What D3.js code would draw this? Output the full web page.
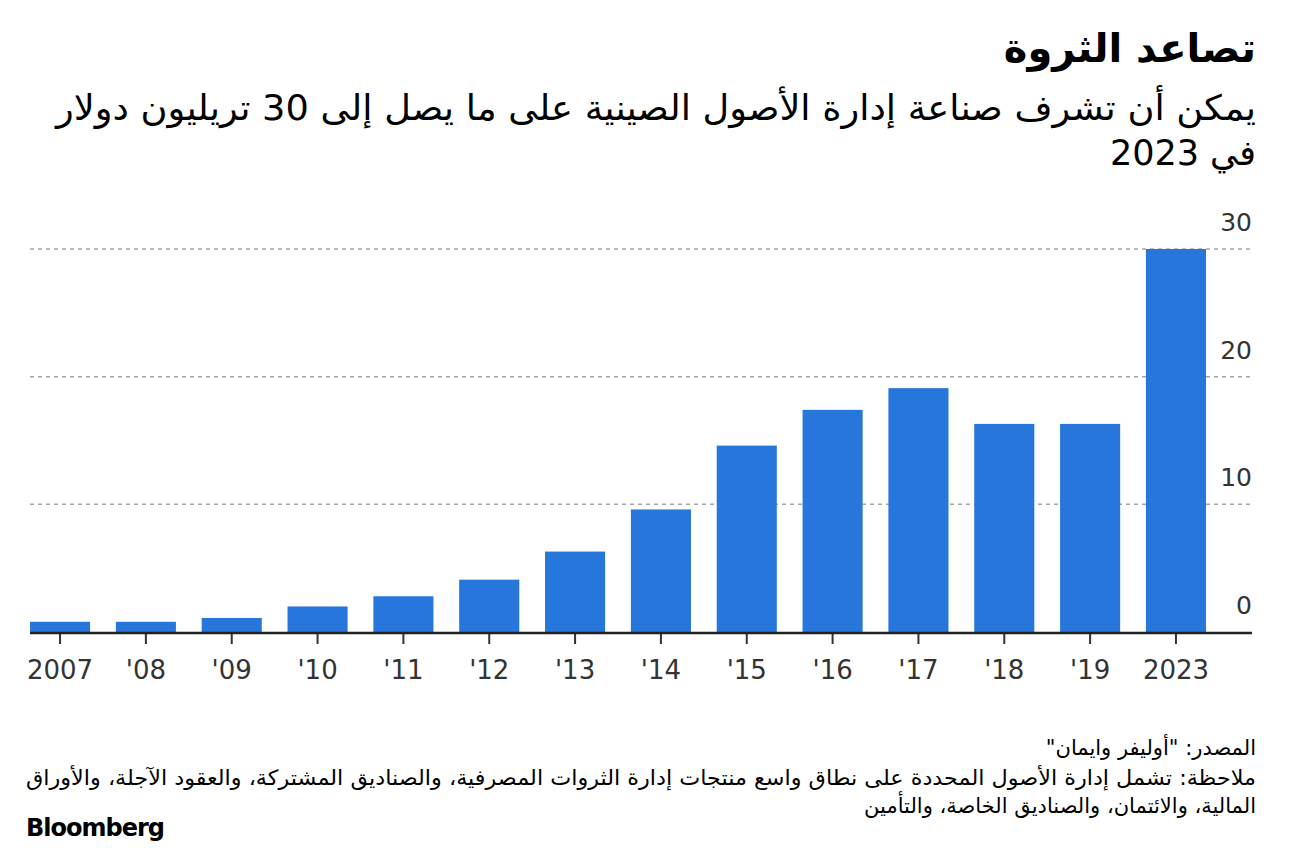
<!DOCTYPE html>
<html>
<head>
<meta charset="utf-8">
<script src="https://cdn.jsdelivr.net/npm/d3@7"></script>
<style>
  body { margin: 0; background: #fff; }
  svg text { font-family: "DejaVu Sans", "Noto Sans", sans-serif; }
</style>
</head>
<body>
<div id="chart"></div>
<script>
var years = ['2007', "'08", "'09", "'10", "'11", "'12", "'13", "'14", "'15", "'16", "'17", "'18", "'19", '2023']
var assets = [0.8, 0.8, 1.1, 2.0, 2.8, 4.1, 6.3, 9.6, 14.6, 17.4, 19.1, 16.3, 16.3, 30]
var yTicks = [0, 10, 20, 30]

var title = 'تصاعد الثروة'
var subtitle = ['يمكن أن تشرف صناعة إدارة الأصول الصينية على ما يصل إلى 30 تريليون دولار', 'في 2023']
var footer = [
    'المصدر: "أوليفر وايمان"',
    'ملاحظة: تشمل إدارة الأصول المحددة على نطاق واسع منتجات إدارة الثروات المصرفية، والصناديق المشتركة، والعقود الآجلة، والأوراق',
    'المالية، والائتمان، والصناديق الخاصة، والتأمين'
]

var width = 1296
var height = 852
var left = 30
var right = 1252
var plotTop = 249
var plotBottom = 632

var svg = d3.select('#chart').append('svg')
    .attr('width', width)
    .attr('height', height)

function rtlText(str, y, size, weight){
    return svg.append('text')
        .attr('x', 1256)
        .attr('y', y)
        .attr('direction', 'rtl')
        .attr('text-anchor', 'start')
        .attr('font-size', size)
        .attr('font-weight', weight || 'normal')
        .attr('fill', '#000')
        .text(str)
}

rtlText(title, 62, 40, 'bold')
rtlText(subtitle[0], 120, 35).attr('textLength', 1200).attr('lengthAdjust', 'spacingAndGlyphs')
rtlText(subtitle[1], 165, 35)

var x = d3.scaleBand()
    .domain(years)
    .range([left, 1206])
    .paddingInner(0.3)
    .paddingOuter(0)

var y = d3.scaleLinear()
    .domain([0, 30])
    .range([plotBottom, plotTop])

// grid lines
svg.append('g')
    .selectAll('line')
    .data(yTicks.filter(function(d){ return d > 0 }))
    .enter()
    .append('line')
    .attr('x1', left)
    .attr('x2', right)
    .attr('y1', function(d){ return y(d) })
    .attr('y2', function(d){ return y(d) })
    .attr('stroke', '#a6a6a6')
    .attr('stroke-width', 1.5)
    .attr('stroke-dasharray', '4,4')

// bars
svg.append('g')
    .selectAll('rect')
    .data(assets)
    .enter()
    .append('rect')
    .attr('x', function(d, i){ return x(years[i]) })
    .attr('y', function(d){ return y(d) })
    .attr('width', x.bandwidth())
    .attr('height', function(d){ return plotBottom - y(d) })
    .attr('fill', '#2676dc')

// y labels, right aligned, sitting above the grid line
svg.append('g')
    .selectAll('text')
    .data(yTicks)
    .enter()
    .append('text')
    .attr('x', right)
    .attr('y', function(d){ return y(d) - 18 })
    .attr('text-anchor', 'end')
    .attr('font-size', 25)
    .attr('fill', '#333')
    .text(function(d){ return d })

// x axis
var xAxis = d3.axisBottom(x).tickSize(12).tickPadding(17)
var gx = svg.append('g')
    .attr('transform', 'translate(0,' + plotBottom + ')')
    .call(xAxis)
gx.select('.domain').remove()
gx.selectAll('.tick line').attr('stroke', '#333').attr('stroke-width', 2)
gx.selectAll('.tick text')
    .attr('font-size', 26)
    .attr('fill', '#333')
    .attr('font-family', '"DejaVu Sans Condensed", "DejaVu Sans", sans-serif')

svg.append('line')
    .attr('x1', left)
    .attr('x2', right)
    .attr('y1', plotBottom + 1)
    .attr('y2', plotBottom + 1)
    .attr('stroke', '#222')
    .attr('stroke-width', 2.5)

rtlText(footer[0], 755, 21)
rtlText(footer[1], 785, 21).attr('textLength', 1230).attr('lengthAdjust', 'spacingAndGlyphs')
rtlText(footer[2], 813, 21)

svg.append('text')
    .attr('x', 26)
    .attr('y', 836)
    .attr('font-size', 24)
    .attr('font-weight', 'bold')
    .attr('letter-spacing', -1)
    .attr('font-family', '"Liberation Sans", Arial, sans-serif')
    .attr('fill', '#000')
    .text('Bloomberg')
</script>
</body>
</html>
